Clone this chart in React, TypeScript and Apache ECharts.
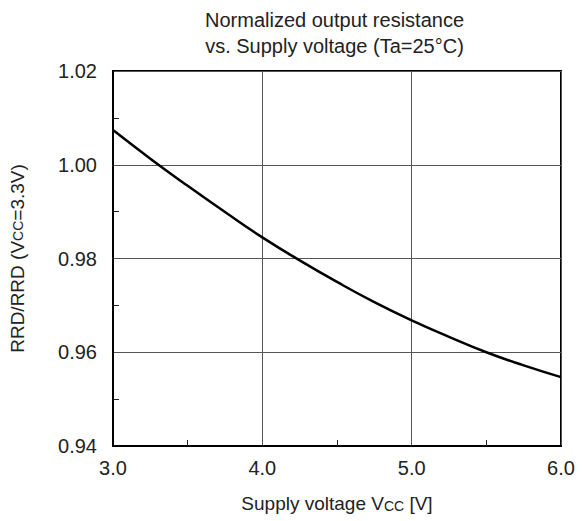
import React, { useEffect, useRef } from "react";
import * as echarts from "echarts";

const voltage = [3.0, 3.25, 3.5, 3.75, 4.0, 4.25, 4.5, 4.75, 5.0, 5.25, 5.5, 5.75, 6.0];
const ratio = [1.0074, 1.0013, 0.9955, 0.9899, 0.9845, 0.9796, 0.975, 0.9707, 0.9668, 0.9633, 0.96, 0.9572, 0.9547];
const xTicks = [3.0, 4.0, 5.0, 6.0];
const yTicks = [0.94, 0.96, 0.98, 1.0, 1.02];

const FONT = "'Liberation Sans', Arial, sans-serif";
const TXT = "#222";

export default function App() {
  const ref = useRef<HTMLDivElement>(null);
  useEffect(() => {
    if (!ref.current) return;
    document.body.style.margin = "0";
    const chart = echarts.init(ref.current, undefined, { renderer: "svg" });
    const data = voltage.map((v, i) => [v, ratio[i]]);
    chart.setOption({
      animation: false,
      backgroundColor: "#fff",
      textStyle: { fontFamily: FONT, color: TXT },
      title: {
        text: "Normalized output resistance\nvs. Supply voltage (Ta=25\u00b0C)",
        left: 334.5,
        textAlign: "center",
        top: 7,
        padding: 0,
        textStyle: { fontFamily: FONT, fontSize: 20, fontWeight: "normal", color: TXT, lineHeight: 26 },
      },
      grid: {
        left: 108,
        right: 21,
        top: 71,
        bottom: 75,
        show: true,
        borderColor: "#000",
        borderWidth: 2,
        containLabel: false,
      },
      xAxis: {
        type: "value",
        min: xTicks[0],
        max: xTicks[xTicks.length - 1],
        interval: 1,
        name: "Supply voltage V{s|CC} [V]",
        nameLocation: "middle",
        nameGap: 48,
        nameTextStyle: {
          fontFamily: FONT,
          fontSize: 19,
          color: TXT,
          rich: { s: { fontFamily: FONT, fontSize: 14, color: TXT, verticalAlign: "bottom", padding: [4, 0, 0, 0] } },
        },
        axisLine: { show: true, lineStyle: { color: "#000", width: 2 } },
        axisTick: { show: false, inside: true },
        minorTick: { show: true, splitNumber: 2, length: 6, lineStyle: { color: "#222", width: 1 } },
        axisLabel: {
          fontFamily: FONT,
          fontSize: 20,
          color: TXT,
          margin: 12,
          formatter: (v: number) => v.toFixed(1),
        },
        splitLine: { show: true, lineStyle: { color: "#555", width: 1 } },
      },
      yAxis: {
        type: "value",
        min: yTicks[0],
        max: yTicks[yTicks.length - 1],
        interval: 0.02,
        name: "RRD/RRD (V{s|CC}=3.3V)",
        nameLocation: "middle",
        nameRotate: 90,
        nameGap: 86,
        nameTextStyle: {
          fontFamily: FONT,
          fontSize: 19,
          color: TXT,
          rich: { s: { fontFamily: FONT, fontSize: 14, color: TXT } },
        },
        axisLine: { show: true, lineStyle: { color: "#000", width: 2 } },
        axisTick: { show: false, inside: true },
        minorTick: { show: true, splitNumber: 2, length: 6, lineStyle: { color: "#222", width: 1 } },
        axisLabel: {
          fontFamily: FONT,
          fontSize: 20,
          color: TXT,
          margin: 16,
          formatter: (v: number) => v.toFixed(2),
        },
        splitLine: { show: true, lineStyle: { color: "#555", width: 1 } },
      },
      series: [
        {
          type: "line",
          data,
          smooth: true,
          showSymbol: false,
          symbol: "none",
          lineStyle: { color: "#000", width: 2.5 },
        },
      ],
    });
    return () => chart.dispose();
  }, []);
  return <div ref={ref} style={{ width: 582, height: 521 }} />;
}
